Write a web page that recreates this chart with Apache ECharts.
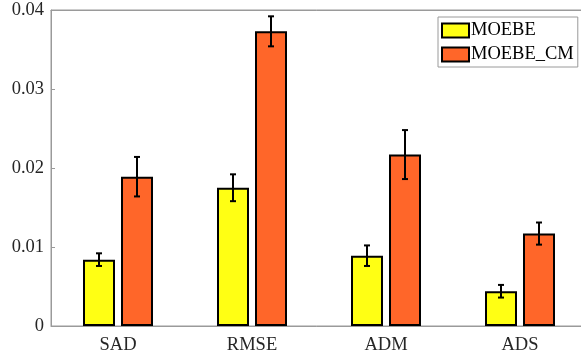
<!DOCTYPE html>
<html lang="en">

<head>
  <meta charset="UTF-8">
  <title>MOEBE vs MOEBE_CM</title>
  <script src="https://cdn.jsdelivr.net/npm/echarts@6/dist/echarts.min.js"></script>
  <style>
    html, body { margin: 0; padding: 0; background: #fff; }
  </style>
</head>

<body>
  <div id="main" style="width: 581px;height:360px"></div>
  <script>
    var categories = ['SAD', 'RMSE', 'ADM', 'ADS'];
    var moebe = [0.0084, 0.0175, 0.0089, 0.0044];
    var moebeCm = [0.0189, 0.0373, 0.0217, 0.0117];
    // 误差（±）
    var moebeErr = [0.0008, 0.0017, 0.0013, 0.0008];
    var moebeCmErr = [0.0025, 0.0019, 0.0031, 0.0014];
    var yTicks = [0, 0.01, 0.02, 0.03, 0.04];

    var font = 'Liberation Serif';
    var fontSize = 18.5;
    var axisGray = '#9a9a9a';
    var barWidth = 32;
    var barGap = 6;
    var offset = (barWidth + barGap) / 2;

    function errData(vals, errs) {
      return vals.map(function (v, i) {
        return [i, v - errs[i], v + errs[i]];
      });
    }

    function errRender(shift) {
      return function (params, api) {
        var lo = api.coord([api.value(0), api.value(1)]);
        var hi = api.coord([api.value(0), api.value(2)]);
        var x = lo[0] + shift;
        var cap = 3;
        var st = { stroke: '#000', lineWidth: 2 };
        return {
          type: 'group',
          children: [
            { type: 'line', shape: { x1: x, y1: lo[1], x2: x, y2: hi[1] }, style: st },
            { type: 'line', shape: { x1: x - cap, y1: lo[1], x2: x + cap, y2: lo[1] }, style: st },
            { type: 'line', shape: { x1: x - cap, y1: hi[1], x2: x + cap, y2: hi[1] }, style: st }
          ]
        };
      };
    }

    var myChart = echarts.init(document.getElementById('main'));
    var option = {
      animation: false,
      textStyle: { fontFamily: font },
      grid: {
        left: 51, width: 536, top: 10, bottom: 34,
        outerBoundsMode: 'none',
        containLabel: false,
        show: true, borderColor: axisGray, borderWidth: 1
      },
      legend: {
        data: ['MOEBE', 'MOEBE_CM'],
        orient: 'vertical',
        left: 438, top: 17,
        icon: 'rect',
        itemWidth: 27, itemHeight: 14, itemGap: 5,
        padding: [4, 4, 3, 3],
        borderColor: axisGray, borderWidth: 1,
        backgroundColor: '#fff',
        textStyle: { fontFamily: font, fontSize: fontSize, color: '#000', padding: [0, 0, 0, -3] }
      },
      xAxis: [
        {
          type: 'category',
          data: categories,
          axisLine: { lineStyle: { color: axisGray } },
          axisTick: { inside: true, alignWithLabel: true, length: 4, lineStyle: { color: axisGray } },
          axisLabel: { fontFamily: font, fontSize: fontSize, color: '#262626', margin: 10 }
        },
        {
          type: 'category',
          position: 'top',
          data: categories,
          axisLine: { lineStyle: { color: axisGray } },
          axisTick: { inside: true, alignWithLabel: true, length: 4, lineStyle: { color: axisGray } },
          axisLabel: { show: false }
        }
      ],
      yAxis: {
        type: 'value',
        min: yTicks[0],
        max: yTicks[yTicks.length - 1],
        interval: 0.01,
        splitLine: { show: false },
        axisLine: { show: true, lineStyle: { color: axisGray } },
        axisTick: { show: true, inside: true, length: 4, lineStyle: { color: axisGray } },
        axisLabel: {
          fontFamily: font, fontSize: fontSize, color: '#262626', margin: 7,
          formatter: function (v) { return v === 0 ? '0' : v.toFixed(2); }
        }
      },
      series: [
        {
          name: 'MOEBE',
          type: 'bar',
          data: moebe,
          barWidth: barWidth,
          barGap: (barGap / barWidth * 100) + '%',
          itemStyle: { color: '#FFFF14', borderColor: '#000', borderWidth: 2 }
        },
        {
          name: 'MOEBE_CM',
          type: 'bar',
          data: moebeCm,
          barWidth: barWidth,
          itemStyle: { color: '#FF6629', borderColor: '#000', borderWidth: 2 }
        },
        {
          type: 'custom',
          data: errData(moebe, moebeErr),
          encode: { x: 0, y: [1, 2] },
          renderItem: errRender(-offset),
          z: 5
        },
        {
          type: 'custom',
          data: errData(moebeCm, moebeCmErr),
          encode: { x: 0, y: [1, 2] },
          renderItem: errRender(offset),
          z: 5
        }
      ]
    };
    myChart.setOption(option);
  </script>
</body>

</html>
